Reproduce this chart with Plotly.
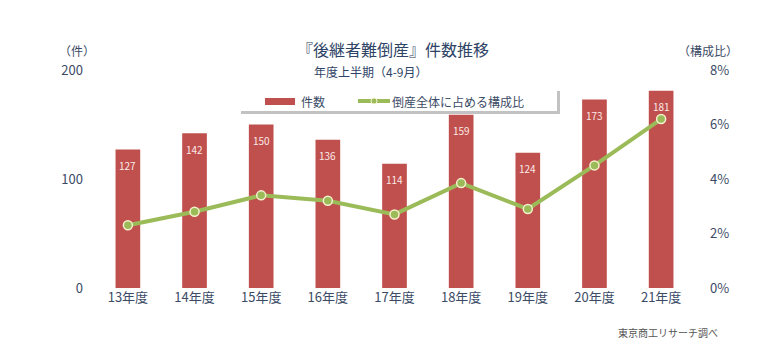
import plotly.graph_objects as go

categories = ["13年度", "14年度", "15年度", "16年度", "17年度", "18年度", "19年度", "20年度", "21年度"]
counts = [127, 142, 150, 136, 114, 159, 124, 173, 181]
share = [0.023, 0.028, 0.034, 0.032, 0.027, 0.0385, 0.029, 0.045, 0.062]

# page body has an 8px margin; work in window pixel coordinates and offset
OFF = 8
W, H = 782 - 2 * OFF, 355 - 2 * OFF
PL, PR, PT, PB = 92, 697, 70, 288  # plot area in window pixels
ML, MT = PL - OFF, PT - OFF
MR = W - (PR - OFF)
MB = H - (PB - OFF)
PW, PH = PR - PL, PB - PT

def px(x):
    return (x - PL) / PW

def py(y):
    return (PB - y) / PH

FONT = "Noto Sans CJK JP"
TXT = "#3B4B66"
RED = "#C0504D"
GREEN = "#9BBB59"

fig = go.Figure()
fig.add_trace(go.Bar(x=categories, y=counts, name="件数", marker=dict(color=RED, line=dict(width=0)),
                     showlegend=False, hoverinfo="skip"))
fig.add_trace(go.Scatter(x=categories, y=share, name="倒産全体に占める構成比", yaxis="y2",
                         mode="lines+markers", line=dict(color=GREEN, width=4),
                         marker=dict(symbol="circle", size=9, color=GREEN, line=dict(color="#F4F1CF", width=1.5)),
                         showlegend=False, hoverinfo="skip"))

ann = []
for c, v in zip(categories, counts):
    ann.append(dict(x=c, y=v, xref="x", yref="y", text=str(v), showarrow=False, yshift=-16,
                    font=dict(family=FONT, size=10, color="#FBE9E7")))

ann += [
    dict(x=px(393), y=py(49), xref="paper", yref="paper", text="『後継者難倒産』件数推移", showarrow=False,
         font=dict(family=FONT, size=16, color="#2E4466"), xanchor="center", yanchor="middle"),
    dict(x=px(371), y=py(72), xref="paper", yref="paper", text="年度上半期（4-9月）", showarrow=False,
         font=dict(family=FONT, size=12, color="#2E4466"), xanchor="center", yanchor="middle"),
    dict(x=px(77), y=py(51), xref="paper", yref="paper", text="（件）", showarrow=False,
         font=dict(family=FONT, size=12, color=TXT), xanchor="center", yanchor="middle"),
    dict(x=px(708), y=py(50), xref="paper", yref="paper", text="（構成比）", showarrow=False,
         font=dict(family=FONT, size=12, color=TXT), xanchor="center", yanchor="middle"),
    dict(x=px(720), y=py(332), xref="paper", yref="paper", text="東京商工リサーチ調べ", showarrow=False,
         font=dict(family=FONT, size=10, color="#555555"), xanchor="right", yanchor="middle"),
    dict(x=px(299), y=py(101), xref="paper", yref="paper", text="件数", showarrow=False,
         font=dict(family=FONT, size=12, color=TXT), xanchor="left", yanchor="middle"),
    dict(x=px(390), y=py(101), xref="paper", yref="paper", text="倒産全体に占める構成比", showarrow=False,
         font=dict(family=FONT, size=12, color=TXT), xanchor="left", yanchor="middle"),
]

shapes = [
    # legend shadow
    dict(type="rect", xref="paper", yref="paper", x0=px(241), x1=px(560), y0=py(91), y1=py(114),
         fillcolor="rgba(120,120,120,0.45)", line=dict(width=0), layer="above"),
    dict(type="rect", xref="paper", yref="paper", x0=px(238), x1=px(557), y0=py(88), y1=py(111),
         fillcolor="white", line=dict(width=0), layer="above"),
    dict(type="rect", xref="paper", yref="paper", x0=px(265), x1=px(295), y0=py(98), y1=py(105),
         fillcolor=RED, line=dict(width=0), layer="above"),
    dict(type="line", xref="paper", yref="paper", x0=px(358), x1=px(390), y0=py(101), y1=py(101),
         line=dict(color=GREEN, width=4), layer="above"),
    dict(type="circle", xref="paper", yref="paper", x0=px(371), x1=px(377), y0=py(98), y1=py(104),
         fillcolor=GREEN, line=dict(color="#F4F1CF", width=1), layer="above"),
]

fig.update_layout(
    width=W, height=H,
    margin=dict(l=ML, r=MR, t=MT, b=MB),
    paper_bgcolor="white", plot_bgcolor="white",
    bargap=0.63,
    font=dict(family=FONT, color=TXT),
    xaxis=dict(showgrid=False, zeroline=False, showline=False, ticks="",
               tickfont=dict(family=FONT, size=13, color=TXT)),
    yaxis=dict(range=[0, 200], dtick=100, showgrid=False, zeroline=False, showline=False,
               ticks="", ticklabelstandoff=8, tickfont=dict(family=FONT, size=13, color=TXT)),
    yaxis2=dict(range=[0, 0.08], dtick=0.02, tickformat=".0%", overlaying="y", side="right",
                showgrid=False, zeroline=False, showline=False, ticks="", ticklabelstandoff=12,
                tickfont=dict(family=FONT, size=13, color=TXT)),
    annotations=ann,
    shapes=shapes,
    showlegend=False,
)

fig.write_html("out.html")
